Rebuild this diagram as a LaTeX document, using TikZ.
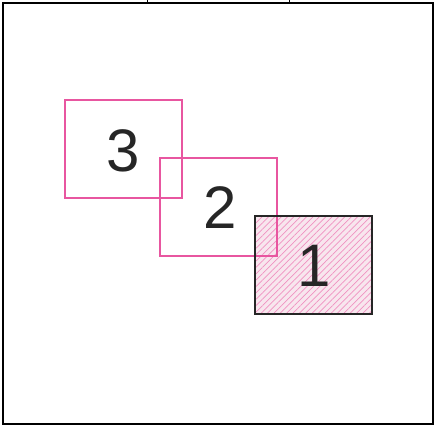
\documentclass[tikz,border=0pt]{standalone}
\usepackage{fontspec}
\setmainfont{Liberation Sans}
\usetikzlibrary{patterns.meta}
\definecolor{pinkline}{RGB}{232,86,160}
\definecolor{pinkfill}{RGB}{248,230,238}
\begin{document}
\begin{tikzpicture}[x=1pt,y=-1pt,
  frame/.style={draw=black,line width=1.6pt},
  pinkbox/.style={draw=pinkline,line width=1.8pt},
  digit/.style={font=\fontsize{60}{60}\selectfont,text=black!85}]
\useasboundingbox (0,0) rectangle (446,428);
\draw[frame] (3,3) rectangle (433,424);
\draw[line width=1pt] (147,0) -- (147,3) (289,0) -- (289,3);
% box 1 (hatched)
\fill[pinkfill] (255,216) rectangle (372,314);
\fill[pattern={Lines[angle=45,distance=4.5pt,line width=0.7pt]},pattern color=pinkline!65] (255,216) rectangle (372,314);
% box 3
\draw[pinkbox] (65,100) rectangle (182,198);
% box 2
\draw[pinkbox] (160,158) rectangle (277,256);
\draw[draw=black!85,line width=1.6pt] (255,216) rectangle (372,314);
\node[digit] (t3) at (123,151) {3};
\node[digit] (t2) at (220,208) {2};
\node[digit] (t1) at (314,266) {1};
\end{tikzpicture}
\end{document}
